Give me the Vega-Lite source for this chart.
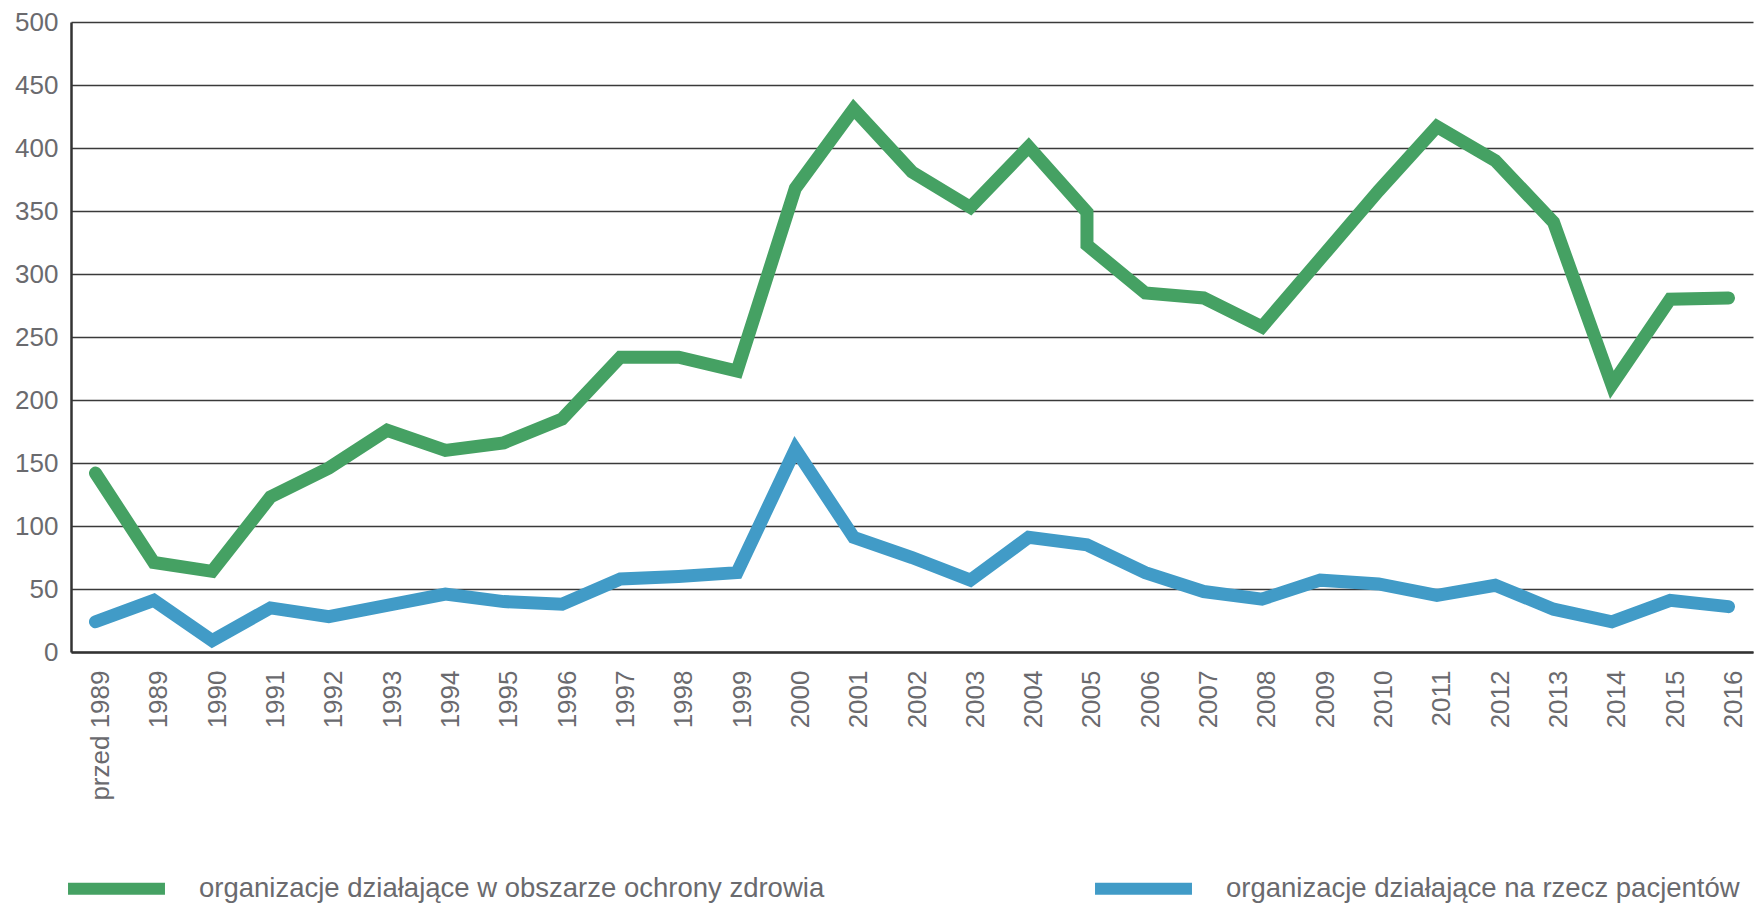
{
  "$schema": "https://vega.github.io/schema/vega-lite/v6.json",
  "autosize": "none",
  "width": 1682,
  "height": 630,
  "padding": {"left": 71, "top": 22, "right": 3, "bottom": 255},
  "background": "white",
  "datasets": {
    "rows": [
      {"i": 0, "rok": "przed 1989", "seria": "organizacje działające w obszarze ochrony zdrowia", "wartosc": 142},
      {"i": 1, "rok": "1989", "seria": "organizacje działające w obszarze ochrony zdrowia", "wartosc": 71},
      {"i": 2, "rok": "1990", "seria": "organizacje działające w obszarze ochrony zdrowia", "wartosc": 64},
      {"i": 3, "rok": "1991", "seria": "organizacje działające w obszarze ochrony zdrowia", "wartosc": 123},
      {"i": 4, "rok": "1992", "seria": "organizacje działające w obszarze ochrony zdrowia", "wartosc": 146},
      {"i": 5, "rok": "1993", "seria": "organizacje działające w obszarze ochrony zdrowia", "wartosc": 176},
      {"i": 6, "rok": "1994", "seria": "organizacje działające w obszarze ochrony zdrowia", "wartosc": 160},
      {"i": 7, "rok": "1995", "seria": "organizacje działające w obszarze ochrony zdrowia", "wartosc": 166},
      {"i": 8, "rok": "1996", "seria": "organizacje działające w obszarze ochrony zdrowia", "wartosc": 185},
      {"i": 9, "rok": "1997", "seria": "organizacje działające w obszarze ochrony zdrowia", "wartosc": 234},
      {"i": 10, "rok": "1998", "seria": "organizacje działające w obszarze ochrony zdrowia", "wartosc": 234},
      {"i": 11, "rok": "1999", "seria": "organizacje działające w obszarze ochrony zdrowia", "wartosc": 223},
      {"i": 12, "rok": "2000", "seria": "organizacje działające w obszarze ochrony zdrowia", "wartosc": 368},
      {"i": 13, "rok": "2001", "seria": "organizacje działające w obszarze ochrony zdrowia", "wartosc": 431},
      {"i": 14, "rok": "2002", "seria": "organizacje działające w obszarze ochrony zdrowia", "wartosc": 381},
      {"i": 15, "rok": "2003", "seria": "organizacje działające w obszarze ochrony zdrowia", "wartosc": 353},
      {"i": 16, "rok": "2004", "seria": "organizacje działające w obszarze ochrony zdrowia", "wartosc": 401},
      {"i": 17, "rok": "2005", "seria": "organizacje działające w obszarze ochrony zdrowia", "wartosc": 349},
      {"i": 18, "rok": "2005", "seria": "organizacje działające w obszarze ochrony zdrowia", "wartosc": 323},
      {"i": 19, "rok": "2006", "seria": "organizacje działające w obszarze ochrony zdrowia", "wartosc": 285},
      {"i": 20, "rok": "2007", "seria": "organizacje działające w obszarze ochrony zdrowia", "wartosc": 281},
      {"i": 21, "rok": "2008", "seria": "organizacje działające w obszarze ochrony zdrowia", "wartosc": 258},
      {"i": 22, "rok": "2009", "seria": "organizacje działające w obszarze ochrony zdrowia", "wartosc": 312},
      {"i": 23, "rok": "2010", "seria": "organizacje działające w obszarze ochrony zdrowia", "wartosc": 366},
      {"i": 24, "rok": "2011", "seria": "organizacje działające w obszarze ochrony zdrowia", "wartosc": 417},
      {"i": 25, "rok": "2012", "seria": "organizacje działające w obszarze ochrony zdrowia", "wartosc": 390},
      {"i": 26, "rok": "2013", "seria": "organizacje działające w obszarze ochrony zdrowia", "wartosc": 341},
      {"i": 27, "rok": "2014", "seria": "organizacje działające w obszarze ochrony zdrowia", "wartosc": 212},
      {"i": 28, "rok": "2015", "seria": "organizacje działające w obszarze ochrony zdrowia", "wartosc": 280},
      {"i": 29, "rok": "2016", "seria": "organizacje działające w obszarze ochrony zdrowia", "wartosc": 281},
      {"i": 0, "rok": "przed 1989", "seria": "organizacje działające na rzecz pacjentów", "wartosc": 24},
      {"i": 1, "rok": "1989", "seria": "organizacje działające na rzecz pacjentów", "wartosc": 41},
      {"i": 2, "rok": "1990", "seria": "organizacje działające na rzecz pacjentów", "wartosc": 9},
      {"i": 3, "rok": "1991", "seria": "organizacje działające na rzecz pacjentów", "wartosc": 35},
      {"i": 4, "rok": "1992", "seria": "organizacje działające na rzecz pacjentów", "wartosc": 28},
      {"i": 5, "rok": "1993", "seria": "organizacje działające na rzecz pacjentów", "wartosc": 37},
      {"i": 6, "rok": "1994", "seria": "organizacje działające na rzecz pacjentów", "wartosc": 46},
      {"i": 7, "rok": "1995", "seria": "organizacje działające na rzecz pacjentów", "wartosc": 40},
      {"i": 8, "rok": "1996", "seria": "organizacje działające na rzecz pacjentów", "wartosc": 38},
      {"i": 9, "rok": "1997", "seria": "organizacje działające na rzecz pacjentów", "wartosc": 58},
      {"i": 10, "rok": "1998", "seria": "organizacje działające na rzecz pacjentów", "wartosc": 60},
      {"i": 11, "rok": "1999", "seria": "organizacje działające na rzecz pacjentów", "wartosc": 63},
      {"i": 12, "rok": "2000", "seria": "organizacje działające na rzecz pacjentów", "wartosc": 161},
      {"i": 13, "rok": "2001", "seria": "organizacje działające na rzecz pacjentów", "wartosc": 91},
      {"i": 14, "rok": "2002", "seria": "organizacje działające na rzecz pacjentów", "wartosc": 75},
      {"i": 15, "rok": "2003", "seria": "organizacje działające na rzecz pacjentów", "wartosc": 57},
      {"i": 16, "rok": "2004", "seria": "organizacje działające na rzecz pacjentów", "wartosc": 91},
      {"i": 17, "rok": "2005", "seria": "organizacje działające na rzecz pacjentów", "wartosc": 85},
      {"i": 18, "rok": "2006", "seria": "organizacje działające na rzecz pacjentów", "wartosc": 63},
      {"i": 19, "rok": "2007", "seria": "organizacje działające na rzecz pacjentów", "wartosc": 48},
      {"i": 20, "rok": "2008", "seria": "organizacje działające na rzecz pacjentów", "wartosc": 42},
      {"i": 21, "rok": "2009", "seria": "organizacje działające na rzecz pacjentów", "wartosc": 57},
      {"i": 22, "rok": "2010", "seria": "organizacje działające na rzecz pacjentów", "wartosc": 54},
      {"i": 23, "rok": "2011", "seria": "organizacje działające na rzecz pacjentów", "wartosc": 45},
      {"i": 24, "rok": "2012", "seria": "organizacje działające na rzecz pacjentów", "wartosc": 53},
      {"i": 25, "rok": "2013", "seria": "organizacje działające na rzecz pacjentów", "wartosc": 34},
      {"i": 26, "rok": "2014", "seria": "organizacje działające na rzecz pacjentów", "wartosc": 24},
      {"i": 27, "rok": "2015", "seria": "organizacje działające na rzecz pacjentów", "wartosc": 41},
      {"i": 28, "rok": "2016", "seria": "organizacje działające na rzecz pacjentów", "wartosc": 36}
    ]
  },
  "data": {"name": "rows"},
  "mark": {"type": "line", "strokeWidth": 13, "strokeCap": "round", "strokeJoin": "miter"},
  "encoding": {
    "x": {
      "field": "rok",
      "type": "ordinal",
      "scale": {
        "type": "point",
        "padding": 0.42,
        "domain": ["przed 1989", "1989", "1990", "1991", "1992", "1993", "1994", "1995", "1996", "1997", "1998", "1999", "2000", "2001", "2002", "2003", "2004", "2005", "2006", "2007", "2008", "2009", "2010", "2011", "2012", "2013", "2014", "2015", "2016"]
      },
      "axis": {
        "title": null,
        "labelAngle": -90,
        "labelPadding": 18,
        "labelOffset": 5,
        "ticks": false,
        "grid": false,
        "domain": true,
        "domainColor": "#333333",
        "domainWidth": 2.5
      }
    },
    "y": {
      "field": "wartosc",
      "type": "quantitative",
      "scale": {"domain": [0, 500], "nice": false, "zero": true},
      "axis": {
        "title": null,
        "values": [0, 50, 100, 150, 200, 250, 300, 350, 400, 450, 500],
        "ticks": false,
        "labelPadding": 13,
        "grid": true,
        "gridColor": "#3a3a3a",
        "gridWidth": 1.6,
        "domain": true,
        "domainColor": "#333333",
        "domainWidth": 2.5
      }
    },
    "color": {
      "field": "seria",
      "type": "nominal",
      "scale": {
        "domain": ["organizacje działające w obszarze ochrony zdrowia", "organizacje działające na rzecz pacjentów"],
        "range": ["#45a163", "#419bc7"]
      },
      "legend": {
        "title": null,
        "orient": "none",
        "direction": "horizontal",
        "legendX": -9,
        "legendY": 812,
        "symbolType": "stroke",
        "symbolSize": 9400,
        "symbolStrokeWidth": 12,
        "labelOffset": 28,
        "columnPadding": 246,
        "padding": 0,
        "labelLimit": 0,
        "labelFontSize": 27.5
      }
    },
    "order": {"field": "i", "type": "quantitative"}
  },
  "config": {
    "view": {"stroke": null},
    "font": "Liberation Sans",
    "axis": {"labelFont": "Liberation Sans", "labelFontSize": 26, "labelColor": "#6a6a6e"},
    "legend": {"labelFont": "Liberation Sans", "labelFontSize": 27.5, "labelColor": "#6a6a6e"}
  }
}
